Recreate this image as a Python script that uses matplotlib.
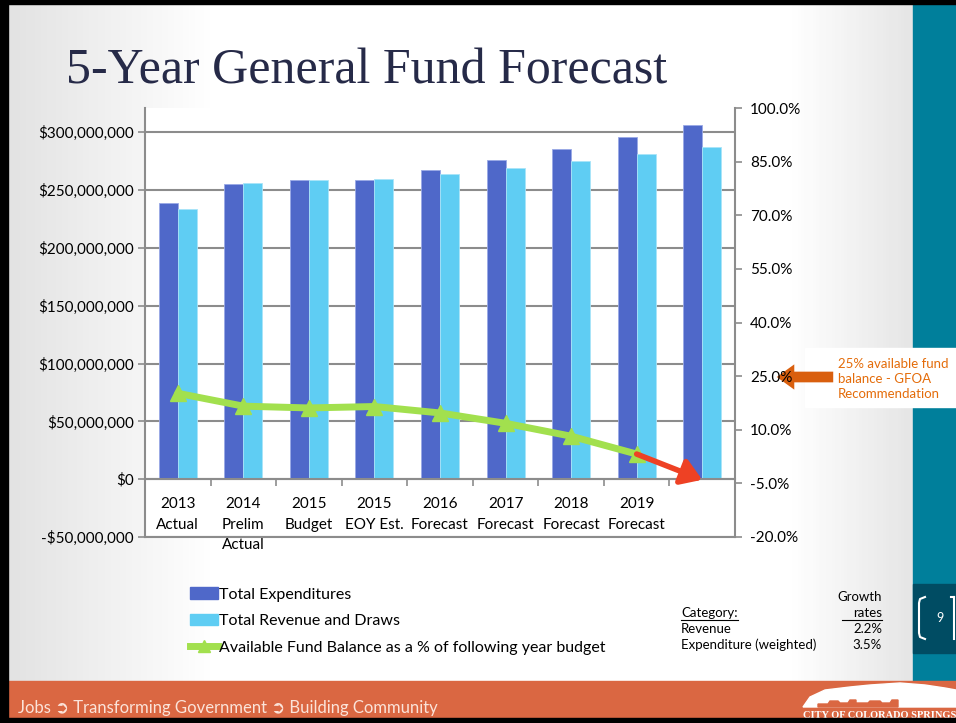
import numpy as np
import matplotlib
matplotlib.use("Agg")
import matplotlib.pyplot as plt
from matplotlib.patches import Rectangle, Polygon, Patch
from matplotlib.lines import Line2D
from matplotlib.colors import LinearSegmentedColormap
from matplotlib.ticker import FuncFormatter, FixedLocator

W, H = 956, 723
DPI = 100

# chart data
categories = ["2013\nActual", "2014\nPrelim\nActual", "2015\nBudget", "2015\nEOY Est.",
              "2016\nForecast", "2017\nForecast", "2018\nForecast", "2019\nForecast", ""]
expenditures = [239e6, 255e6, 258.5e6, 258.5e6, 267e6, 276e6, 285.5e6, 295.5e6, 306e6]
revenue_draws = [234e6, 256e6, 258.5e6, 259.5e6, 263.5e6, 269e6, 275e6, 281e6, 287e6]
fund_balance_pct = [20.2, 16.6, 16.1, 16.5, 14.7, 11.8, 8.2, 3.2]
projected_pct = -4.0

growth_categories = ["Revenue", "Expenditure (weighted)"]
growth_rates = ["2.2%", "3.5%"]

DARK_BLUE = "#4F68C9"
LIGHT_BLUE = "#5FCDF3"
GREEN = "#A2E04E"
RED = "#EE4124"
GRAY = "#8C8C8C"
TEAL = "#007F9B"
ORANGE = "#DA6742"
FONT = ["Lato", "DejaVu Sans"]

plt.rcParams["font.family"] = FONT


def fx(px):
    return px / W


def fy(py):
    return 1 - py / H


fig = plt.figure(figsize=(W / DPI, H / DPI), dpi=DPI)

# slide background, drawn in pixel coordinates
bg = fig.add_axes([0, 0, 1, 1])
bg.set_xlim(0, W)
bg.set_ylim(H, 0)
bg.axis("off")
grad = LinearSegmentedColormap.from_list(
    "slide", [(0, "#e3e3e3"), (0.22, "#ffffff"), (0.87, "#ffffff"), (1, "#e6e6e6")])
bg.imshow(np.linspace(0, 1, 300)[None, :], cmap=grad, aspect="auto",
          extent=(8, 913, 681, 4), zorder=0)
bg.add_patch(Rectangle((913, 4), 43, 677, color=TEAL, zorder=1))
bg.add_patch(Rectangle((913, 584), 43, 69, color="#004C63", zorder=2))
bg.add_patch(Rectangle((0, 681), W, 38, color=ORANGE, zorder=1))
bg.add_patch(Rectangle((0, 0), W, 4, color="black", zorder=5))
bg.add_patch(Rectangle((0, 0), 8, H, color="black", zorder=5))
bg.add_patch(Rectangle((0, 718), W, 5, color="black", zorder=5))

bg.text(66, 84, "5-Year General Fund Forecast", family="Liberation Serif",
        fontsize=36, color="#262A48", va="baseline", ha="left")

# page number
bg.plot([925, 920, 919, 919, 920, 925], [597, 599, 603, 633, 637, 639],
        color="white", lw=1.5, zorder=3)
bg.plot([951, 954], [597, 597], color="white", lw=1.5, zorder=3)
bg.plot([954, 954], [597, 639], color="white", lw=1.5, zorder=3)
bg.text(940, 618, "9", color="white", fontsize=9, ha="center", va="center", zorder=3)

# footer
bg.text(18, 708, "Jobs \u27b2 Transforming Government \u27b2 Building Community",
        color="#FBE3D9", fontsize=12, ha="left", va="center", zorder=3)
bg.add_patch(Polygon([(803, 707), (810, 697), (825, 690), (850, 687), (870, 685),
                      (900, 683), (925, 685), (945, 688), (956, 690), (956, 707)],
                     closed=True, color="white", zorder=3))
bg.add_patch(Polygon([(818, 707), (818, 704), (828, 704), (830, 701), (838, 701),
                      (840, 703), (848, 703), (850, 700), (856, 700), (856, 703),
                      (868, 703), (870, 701), (880, 701), (882, 703), (890, 703),
                      (892, 700), (898, 700), (898, 707)],
                     closed=True, color=ORANGE, zorder=4))
bg.text(803, 715, "CITY OF COLORADO SPRINGS", family="Liberation Serif", weight="bold",
        fontsize=7.5, color="white", ha="left", va="center", zorder=3)

# annotation on the right
bg.add_patch(Rectangle((805, 348), 151, 59, color="white", zorder=4))
bg.annotate("", xy=(774, 377), xytext=(836, 377), zorder=5,
            arrowprops=dict(arrowstyle="simple,head_length=0.9,head_width=1.3,tail_width=0.55",
                            color="#D95F0E", lw=0, mutation_scale=14))
bg.text(838, 379, "25% available fund\nbalance - GFOA\nRecommendation", color="#E46C0A",
        fontsize=9.5, ha="left", va="center", linespacing=1.3, zorder=6)

# growth table
tf = dict(fontsize=9.5, color="black", zorder=3)
bg.text(882, 597, "Growth", ha="right", va="center", **tf)
bg.text(681, 613, "Category:", ha="left", va="center", **tf)
bg.text(882, 613, "rates", ha="right", va="center", **tf)
bg.plot([681, 738], [620, 620], color="black", lw=0.8, zorder=3)
bg.plot([842, 882], [620, 620], color="black", lw=0.8, zorder=3)
for i, (name, rate) in enumerate(zip(growth_categories, growth_rates)):
    bg.text(681, 629 + 16 * i, name, ha="left", va="center", **tf)
    bg.text(882, 629 + 16 * i, rate, ha="right", va="center", **tf)

# main chart
ax = fig.add_axes([fx(145), fy(537), fx(735) - fx(145), fy(108) - fy(537)])
ax.set_facecolor("white")
x = np.arange(len(categories))
bw = 0.29
ax.bar(x - bw / 2, expenditures, bw, color=DARK_BLUE, edgecolor="#9AA9E6", lw=0.6, zorder=2)
ax.bar(x + bw / 2, revenue_draws, bw, color=LIGHT_BLUE, edgecolor="#A9E4F8", lw=0.6, zorder=2)
ax.set_xlim(-0.5, len(categories) - 0.5)
ax.set_ylim(-50e6, 321e6)
ax.set_yticks(np.arange(-50e6, 300e6 + 1, 50e6))
ax.yaxis.set_major_formatter(FuncFormatter(
    lambda v, p: ("-$" if v < 0 else "$") + f"{abs(v):,.0f}"))
ax.grid(axis="y", color=GRAY, lw=1.5, zorder=1)
ax.set_axisbelow(True)

ax.spines["top"].set_visible(False)
ax.spines["right"].set_visible(False)
ax.spines["left"].set_color(GRAY)
ax.spines["left"].set_linewidth(1.5)
ax.spines["bottom"].set_position(("data", 0))
ax.spines["bottom"].set_color(GRAY)
ax.spines["bottom"].set_linewidth(1.5)
ax.plot([0, 1], [0, 0], transform=ax.transAxes, color=GRAY, lw=1.5, clip_on=False)

ax.set_xticks(x)
ax.set_xticklabels(categories)
ax.xaxis.set_minor_locator(FixedLocator(np.arange(-0.5, len(categories), 1.0)))
ax.tick_params(axis="x", which="major", length=0, pad=13, labelsize=11)
ax.tick_params(axis="x", which="minor", length=5, width=1.2, color=GRAY, direction="out")
ax.tick_params(axis="y", length=5, width=1.2, color=GRAY, pad=3, labelsize=11)
for lab in ax.get_xticklabels():
    lab.set_linespacing(1.6)

ax2 = ax.twinx()
ax2.set_ylim(-20, 100)
ax2.set_yticks(np.arange(-20, 101, 15))
ax2.yaxis.set_major_formatter(FuncFormatter(lambda v, p: f"{v:.1f}%"))
for s in ["top", "left", "bottom"]:
    ax2.spines[s].set_visible(False)
ax2.spines["right"].set_color(GRAY)
ax2.spines["right"].set_linewidth(1.5)
ax2.tick_params(axis="y", length=5, width=1.2, color=GRAY, pad=6, labelsize=11)

n = len(fund_balance_pct)
ax2.annotate("", xy=(n, projected_pct), xytext=(n - 1, fund_balance_pct[-1]),
             arrowprops=dict(arrowstyle="-|>,head_length=0.55,head_width=0.36",
                             color=RED, lw=4, shrinkA=0, shrinkB=0, mutation_scale=22))
ax2.plot(x[:n], fund_balance_pct, color=GREEN, lw=5, marker="^", markersize=11,
         solid_capstyle="round")

# legend
handles = [Patch(color=DARK_BLUE), Patch(color=LIGHT_BLUE),
           Line2D([], [], color=GREEN, lw=5, marker="^", markersize=9)]
labels = ["Total Expenditures", "Total Revenue and Draws",
          "Available Fund Balance as a % of following year budget"]
fig.legend(handles, labels, loc="upper left", bbox_to_anchor=(fx(184), fy(581)),
           frameon=False, fontsize=11.5, handlelength=1.7, handletextpad=0.12,
           labelspacing=0.78, borderaxespad=0)

fig.savefig("out.png", dpi=DPI)
